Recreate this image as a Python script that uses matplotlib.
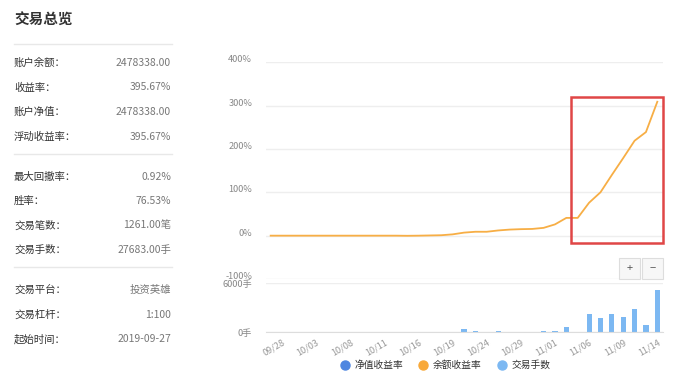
import numpy as np
import matplotlib
matplotlib.use("Agg")
import matplotlib.pyplot as plt
import matplotlib.transforms as mtransforms
from matplotlib.patches import Rectangle

plt.rcParams['font.family'] = ['Noto Sans CJK SC', 'DejaVu Sans']

# ---- data ----
summary_groups = [
    [("账户余额：", "2478338.00"), ("收益率：", "395.67%"),
     ("账户净值：", "2478338.00"), ("浮动收益率：", "395.67%")],
    [("最大回撤率：", "0.92%"), ("胜率：", "76.53%"),
     ("交易笔数：", "1261.00笔"), ("交易手数：", "27683.00手")],
    [("交易平台：", "投资英雄"), ("交易杠杆：", "1:100"),
     ("起始时间：", "2019-09-27")],
]

dates = ["09/27", "09/28", "10/01", "10/02", "10/03", "10/04", "10/05",
         "10/08", "10/09", "10/10", "10/11", "10/12", "10/15", "10/16",
         "10/17", "10/18", "10/19", "10/22", "10/23", "10/24", "10/25",
         "10/26", "10/29", "10/30", "10/31", "11/01", "11/02", "11/05",
         "11/06", "11/07", "11/08", "11/09", "11/12", "11/13", "11/14"]

balance_return = [0, 0, 0, 0, 0, 0, 0, 0, 0, 0, 0, 0, -0.3, 0, 0.5, 1, 3,
                  7, 9, 9, 12, 14, 15, 15.5, 18, 26, 41, 41, 76, 100,
                  140, 179, 219, 239, 309]

lots = [0, 0, 0, 0, 0, 0, 0, 0, 0, 0, 0, 0, 0, 0, 0, 0, 0,
        400, 120, 0, 160, 0, 0, 0, 160, 200, 700, 0, 2250, 1700,
        2250, 1900, 2800, 860, 5220]

tick_labels = ["09/28", "10/03", "10/08", "10/11", "10/16", "10/19",
               "10/24", "10/29", "11/01", "11/06", "11/09", "11/14"]

W, H = 681, 378
fig = plt.figure(figsize=(W / 100, H / 100), dpi=100)
fig.patch.set_facecolor("white")


def px(x, y):
    return x / W, 1 - y / H


# ---- left summary panel ----
fig.text(*px(14, 20), "交易总览", fontsize=10.5, fontweight="bold",
         color="#333333", va="center", ha="left")
fig.add_artist(plt.Line2D([14 / W, 172 / W], [1 - 44 / H] * 2,
                          color="#e8e8e8", lw=1))
y = 63
for gi, group in enumerate(summary_groups):
    for label, value in group:
        fig.text(*px(14, y), label, fontsize=7.5, color="#333333",
                 va="center", ha="left")
        fig.text(*px(171, y), value, fontsize=7.5, color="#777777",
                 va="center", ha="right")
        y += 24.5
    if gi < len(summary_groups) - 1:
        ly = y - 7.5
        fig.add_artist(plt.Line2D([14 / W, 172 / W], [1 - ly / H] * 2,
                                  color="#e8e8e8", lw=1))
        y += 15.5

# ---- return line chart ----
x = np.arange(len(dates))
xlim = (-0.41, 34.5)
ax1 = fig.add_axes([266 / W, 1 - 279 / H, (663 - 266) / W, (279 - 62.3) / H])
ax1.plot(x, balance_return, color="#f7ae45", lw=1.3)
ax1.set_xlim(*xlim)
ax1.set_ylim(-100, 400)
ax1.set_yticks([-100, 0, 100, 200, 300, 400])
ax1.set_yticklabels(["-100%", "0%", "100%", "200%", "300%", "400%"])
ax1.grid(axis="y", color="#eeeeee", lw=1)
ax1.set_axisbelow(True)
ax1.set_xticks([])
for s in ax1.spines.values():
    s.set_visible(False)
ax1.tick_params(axis="y", length=0, pad=10, labelsize=6.6,
                labelcolor="#888888")
# labels sit a little above their grid lines
lift = mtransforms.ScaledTranslation(0, 3.5 / 100, fig.dpi_scale_trans)
for lbl in ax1.get_yticklabels():
    lbl.set_transform(lbl.get_transform() + lift)

# highlight box
fig.add_artist(Rectangle(px(571, 243), 91.7 / W, (243 - 97.3) / H,
                         fill=False, edgecolor="#e04646", lw=1.8))

# zoom buttons
for bx, sym in [(619, "+"), (642, "−")]:
    fig.add_artist(Rectangle(px(bx, 279), 21 / W, 21 / H, facecolor="#f7f7f7",
                             edgecolor="#dddddd", lw=0.8))
    fig.text(*px(bx + 10.5, 268.5), sym, fontsize=8, color="#555555",
             ha="center", va="center")

# ---- lots bar chart ----
ax2 = fig.add_axes([266 / W, 1 - 332.3 / H, (663 - 266) / W, 49 / H])
ax2.bar(x, lots, width=0.45, color="#7cb8f2")
ax2.set_xlim(*xlim)
ax2.set_ylim(0, 6000)
ax2.set_yticks([0, 6000])
ax2.set_yticklabels(["0手", "6000手"])
ax2.grid(axis="y", color="#eeeeee", lw=1)
ax2.set_axisbelow(True)
for s in ["top", "right", "left"]:
    ax2.spines[s].set_visible(False)
ax2.spines["bottom"].set_color("#dddddd")
ax2.tick_params(axis="y", length=0, pad=10, labelsize=6.6,
                labelcolor="#888888")
ax2.set_xticks([dates.index(t) for t in tick_labels])
ax2.set_xticklabels(tick_labels, rotation=30, ha="right",
                    rotation_mode="anchor")
ax2.tick_params(axis="x", length=0, pad=4, labelsize=6.6,
                labelcolor="#999999")

# ---- legend ----
legend_items = [("净值收益率", "#4f86e0", 345), ("余额收益率", "#f8a93a", 423),
                ("交易手数", "#7cb8f2", 502)]
for name, color, lx in legend_items:
    fig.add_artist(plt.Line2D([lx / W], [1 - 365 / H], marker="o",
                              markersize=6.5, color=color, lw=0))
    fig.text(*px(lx + 10, 365), name, fontsize=7, color="#333333",
             ha="left", va="center")

fig.savefig("out.png", dpi=100, facecolor="white")
